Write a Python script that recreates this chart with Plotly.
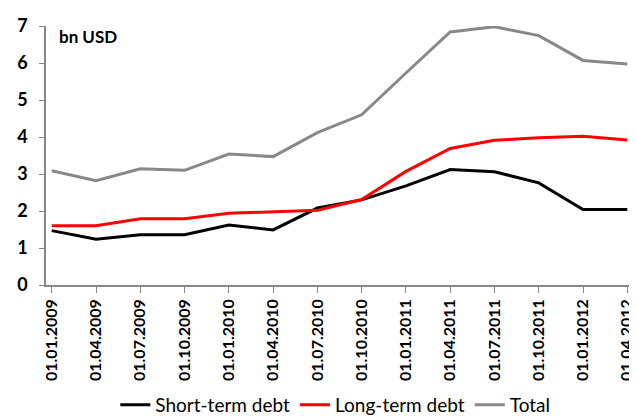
import plotly.graph_objects as go

# Fechas trimestrales
fechas = ['01.01.2009', '01.04.2009', '01.07.2009', '01.10.2009',
          '01.01.2010', '01.04.2010', '01.07.2010', '01.10.2010',
          '01.01.2011', '01.04.2011', '01.07.2011', '01.10.2011',
          '01.01.2012', '01.04.2012']

# Deuda en miles de millones de USD
deuda_corto = [1.47, 1.24, 1.36, 1.36, 1.62, 1.49, 2.08, 2.30,
               2.68, 3.12, 3.06, 2.76, 2.04, 2.04]
deuda_largo = [1.60, 1.60, 1.79, 1.79, 1.94, 1.97, 2.02, 2.31,
               3.07, 3.69, 3.91, 3.98, 4.02, 3.92]
deuda_total = [3.09, 2.82, 3.14, 3.10, 3.54, 3.47, 4.12, 4.60,
               5.73, 6.84, 6.98, 6.74, 6.07, 5.97]

x = list(range(len(fechas)))

fig = go.Figure()
fig.add_trace(go.Scatter(x=x, y=deuda_corto, mode='lines', name='Short-term debt',
                         line=dict(color='#000000', width=3)))
fig.add_trace(go.Scatter(x=x, y=deuda_largo, mode='lines', name='Long-term debt',
                         line=dict(color='#FF0000', width=3)))
fig.add_trace(go.Scatter(x=x, y=deuda_total, mode='lines', name='Total',
                         line=dict(color='#888888', width=3)))

fig.update_layout(
    width=637, height=416,
    margin=dict(l=38, r=0, t=18, b=134),
    plot_bgcolor='white', paper_bgcolor='white',
    font=dict(family='Lato', size=16, color='black'),
    showlegend=True,
    legend=dict(orientation='h', x=0.483, xanchor='center', y=-0.465, yanchor='middle',
                font=dict(size=19), itemwidth=30, tracegroupgap=0,
                bgcolor='rgba(0,0,0,0)'),
    annotations=[dict(text='<b>bn USD</b>', x=0.018, xref='paper', y=6.72, yref='y',
                      xanchor='left', yanchor='middle', showarrow=False,
                      font=dict(size=17))],
)

fig.update_xaxes(
    range=[-0.13, 13.4],
    tickmode='array', tickvals=x, ticktext=fechas, tickangle=-90,
    tickfont=dict(size=16, weight='bold'), ticklabeloverflow='allow',
    showgrid=False, zeroline=False,
    showline=True, linecolor='#868686', linewidth=1.5,
    ticks='outside', tickcolor='#868686', ticklen=6,
)
fig.update_yaxes(
    range=[0, 7], dtick=1,
    tickfont=dict(size=18, weight='bold'), ticklabelstandoff=8,
    showgrid=False, zeroline=False,
    showline=True, linecolor='#868686', linewidth=1.5,
    ticks='outside', tickcolor='#868686', ticklen=5,
)

fig.write_html('out.html')
